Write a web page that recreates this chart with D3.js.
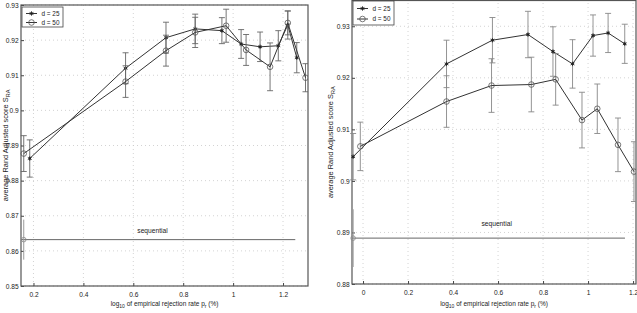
<!DOCTYPE html>
<html>
<head>
<meta charset="utf-8">
<script src="https://cdn.jsdelivr.net/npm/d3@7"></script>
<style>
  body { margin: 0; background: #fff; }
  svg { display: block; font-family: "Liberation Sans", Arial, sans-serif; }
</style>
</head>
<body>
<div id="chart"></div>
<script>
// ---- left panel data ----
const leftX25 = [0.185, 0.569, 0.731, 0.848, 0.955, 1.032, 1.108, 1.181, 1.219, 1.255];
const leftY25 = [0.8863, 0.9120, 0.9207, 0.9232, 0.9227, 0.9189, 0.9181, 0.9184, 0.9243, 0.9150];
const leftE25 = [0.0053, 0.0044, 0.0044, 0.0042, 0.0037, 0.0041, 0.0042, 0.0043, 0.0040, 0.0043];
const leftX50 = [0.161, 0.569, 0.731, 0.848, 0.972, 1.052, 1.148, 1.219, 1.290];
const leftY50 = [0.8877, 0.9082, 0.9170, 0.9222, 0.9241, 0.9172, 0.9124, 0.9249, 0.9093];
const leftE50 = [0.0051, 0.0045, 0.0044, 0.0043, 0.0047, 0.0044, 0.0068, 0.0034, 0.0040];
const leftSeq = { x: 0.161, y: 0.8632, e: 0.0057, xEnd: 1.249 };
const leftXTicks = [0.2, 0.4, 0.6, 0.8, 1, 1.2];
const leftYTicks = [0.85, 0.86, 0.87, 0.88, 0.89, 0.9, 0.91, 0.92, 0.93];

// ---- right panel data ----
const rightX25 = [-0.044, 0.371, 0.575, 0.733, 0.844, 0.931, 1.022, 1.089, 1.163];
const rightY25 = [0.9047, 0.9227, 0.9273, 0.9284, 0.9251, 0.9227, 0.9282, 0.9287, 0.9266];
const rightE25 = [0.0045, 0.0046, 0.0044, 0.0045, 0.0048, 0.0047, 0.0040, 0.0038, 0.0038];
const rightX50 = [-0.012, 0.371, 0.571, 0.748, 0.856, 0.973, 1.041, 1.133, 1.204];
const rightY50 = [0.9067, 0.9154, 0.9185, 0.9187, 0.9197, 0.9118, 0.9140, 0.9070, 0.9018];
const rightE50 = [0.0047, 0.0050, 0.0052, 0.0053, 0.0050, 0.0054, 0.0048, 0.0052, 0.0058];
const rightSeq = { x: -0.044, y: 0.8889, e: 0.0056, xEnd: 1.164 };
const rightXTicks = [0, 0.2, 0.4, 0.6, 0.8, 1, 1.2];
const rightYTicks = [0.88, 0.89, 0.9, 0.91, 0.92, 0.93];

const seriesNames = ['d = 25', 'd = 50'];

const W = 637, H = 313;
const svg = d3.select('#chart').append('svg').attr('width', W).attr('height', H);

function drawPanel(cfg) {
  const x = d3.scaleLinear().domain(cfg.xDomain).range([cfg.x0, cfg.x1]);
  const y = d3.scaleLinear().domain(cfg.yDomain).range([cfg.y0, cfg.y1]);
  const g = svg.append('g');
  const fmt = d => String(+d.toFixed(2));

  // grid
  g.selectAll('.gx').data(cfg.xTicks).enter().append('line')
    .attr('x1', d => x(d)).attr('x2', d => x(d))
    .attr('y1', cfg.y0).attr('y2', cfg.y1)
    .attr('stroke', '#c8c8c8').attr('stroke-width', 0.8).attr('stroke-dasharray', '1,3');
  g.selectAll('.gy').data(cfg.yTicks).enter().append('line')
    .attr('x1', cfg.x0).attr('x2', cfg.x1)
    .attr('y1', d => y(d)).attr('y2', d => y(d))
    .attr('stroke', '#c8c8c8').attr('stroke-width', 0.8).attr('stroke-dasharray', '1,3');

  // axes with inward ticks
  const xa = g.append('g').attr('transform', `translate(0,${cfg.y0})`)
    .call(d3.axisBottom(x).tickValues(cfg.xTicks).tickFormat(fmt).tickSizeInner(-3).tickSizeOuter(0).tickPadding(6.3));
  const ya = g.append('g').attr('transform', `translate(${cfg.x0},0)`)
    .call(d3.axisLeft(y).tickValues(cfg.yTicks).tickFormat(fmt).tickSizeInner(-3).tickSizeOuter(0).tickPadding(2.3));
  [xa, ya].forEach(a => {
    a.select('.domain').remove();
    a.selectAll('line').attr('stroke', '#444');
    a.selectAll('text').attr('font-size', 6.6).attr('fill', '#222')
      .attr('font-family', '"Liberation Sans", Arial, sans-serif');
  });

  // box
  g.append('rect')
    .attr('x', cfg.x0).attr('y', cfg.y1)
    .attr('width', cfg.x1 - cfg.x0).attr('height', cfg.y0 - cfg.y1)
    .attr('fill', 'none').attr('stroke', '#555').attr('stroke-width', 1.2);

  // sequential baseline
  const s = cfg.seq;
  g.append('line')
    .attr('x1', cfg.x0).attr('x2', x(s.xEnd))
    .attr('y1', y(s.y)).attr('y2', y(s.y))
    .attr('stroke', '#666').attr('stroke-width', 1);
  g.append('line')
    .attr('x1', x(s.x)).attr('x2', x(s.x))
    .attr('y1', y(s.y - s.e)).attr('y2', y(s.y + s.e))
    .attr('stroke', '#999').attr('stroke-width', 1);
  g.append('circle').attr('cx', x(s.x)).attr('cy', y(s.y)).attr('r', 2.3)
    .attr('fill', 'none').attr('stroke', '#888').attr('stroke-width', 0.8);
  g.append('text').attr('x', x(cfg.seqLabel[0])).attr('y', y(cfg.seqLabel[1]))
    .attr('font-size', 6.7).attr('fill', '#222').text('sequential');

  const clip = 'clip' + cfg.id;
  svg.append('clipPath').attr('id', clip).append('rect')
    .attr('x', cfg.x0 - 4).attr('y', cfg.y1 - 4)
    .attr('width', cfg.x1 - cfg.x0 + 4).attr('height', cfg.y0 - cfg.y1 + 8);
  const plot = g.append('g').attr('clip-path', `url(#${clip})`);

  const series = [
    { xs: cfg.x25, ys: cfg.y25, es: cfg.e25, filled: true },
    { xs: cfg.x50, ys: cfg.y50, es: cfg.e50, filled: false }
  ];
  const line = d3.line().x(d => x(d.x)).y(d => y(d.y));

  series.forEach(sr => {
    const pts = sr.xs.map((v, i) => ({ x: v, y: sr.ys[i], e: sr.es[i] }));
    // error bars
    const eb = plot.append('g').attr('stroke', cfg.errColor).attr('stroke-width', 0.9);
    pts.forEach(p => {
      const cx = x(p.x), ylo = y(p.y - p.e), yhi = y(p.y + p.e);
      eb.append('line').attr('x1', cx).attr('x2', cx).attr('y1', ylo).attr('y2', yhi);
      eb.append('line').attr('x1', cx - 3).attr('x2', cx + 3).attr('y1', ylo).attr('y2', ylo);
      eb.append('line').attr('x1', cx - 3).attr('x2', cx + 3).attr('y1', yhi).attr('y2', yhi);
    });
    plot.append('path').datum(pts).attr('d', line)
      .attr('fill', 'none').attr('stroke', '#333').attr('stroke-width', 1);
    pts.forEach(p => drawMarker(plot, x(p.x), y(p.y), sr.filled));
  });

  // legend
  const L = cfg.legend;
  const lg = g.append('g');
  lg.append('rect').attr('x', L.x).attr('y', L.y).attr('width', L.w).attr('height', L.h)
    .attr('fill', '#fff').attr('stroke', '#444').attr('stroke-width', 0.8);
  seriesNames.forEach((name, i) => {
    const yy = L.rows[i];
    lg.append('line').attr('x1', L.x + 4).attr('x2', L.x + 15).attr('y1', yy).attr('y2', yy)
      .attr('stroke', '#333').attr('stroke-width', 1);
    drawMarker(lg, L.x + 9.5, yy, i === 0);
    lg.append('text').attr('x', L.x + 19.5).attr('y', yy + 2.3)
      .attr('font-size', 6.4).attr('fill', '#222').text(name);
  });

  // axis labels
  const ylab = g.append('text')
    .attr('transform', `translate(${cfg.yLabelX},${(cfg.y0 + cfg.y1) / 2}) rotate(-90)`)
    .attr('text-anchor', 'middle').attr('font-size', 7.4).attr('fill', '#222');
  ylab.append('tspan').text('average Rand Adjusted score S');
  ylab.append('tspan').attr('font-size', 5.5).attr('dy', 2).text('RA');

  const xlab = g.append('text')
    .attr('x', (cfg.x0 + cfg.x1) / 2).attr('y', cfg.xLabelY)
    .attr('text-anchor', 'middle').attr('font-size', 6.5).attr('fill', '#222');
  xlab.append('tspan').text('log');
  xlab.append('tspan').attr('font-size', 5).attr('dy', 2).text('10');
  xlab.append('tspan').attr('dy', -2).text(' of empirical rejection rate p');
  xlab.append('tspan').attr('font-size', 5).attr('dy', 2).text('r');
  xlab.append('tspan').attr('dy', -2).text(' (%)');
}

function drawMarker(parent, cx, cy, filled) {
  if (filled) {
    parent.append('path')
      .attr('transform', `translate(${cx},${cy})`)
      .attr('d', d3.symbol(d3.symbolAsterisk, 14)())
      .attr('fill', 'none').attr('stroke', '#222').attr('stroke-width', 0.8);
    parent.append('circle').attr('cx', cx).attr('cy', cy).attr('r', 1.2).attr('fill', '#222');
  } else {
    parent.append('circle').attr('cx', cx).attr('cy', cy).attr('r', 2.8)
      .attr('fill', 'none').attr('stroke', '#555').attr('stroke-width', 0.8);
  }
}

drawPanel({
  id: 'L', x0: 21, x1: 308, y0: 286, y1: 5,
  xDomain: [0.15, 1.3], yDomain: [0.85, 0.93],
  xTicks: leftXTicks, yTicks: leftYTicks,
  x25: leftX25, y25: leftY25, e25: leftE25,
  x50: leftX50, y50: leftY50, e50: leftE50,
  seq: leftSeq, seqLabel: [0.616, 0.8652],
  legend: { x: 22, y: 7, w: 41, h: 20, rows: [13.5, 22.5] },
  errColor: '#666',
  yLabelX: 8, xLabelY: 306
});

drawPanel({
  id: 'R', x0: 352, x1: 636, y0: 284, y1: 0.5,
  xDomain: [-0.049, 1.213], yDomain: [0.88, 0.935],
  xTicks: rightXTicks, yTicks: rightYTicks,
  x25: rightX25, y25: rightY25, e25: rightE25,
  x50: rightX50, y50: rightY50, e50: rightE50,
  seq: rightSeq, seqLabel: [0.526, 0.8913],
  legend: { x: 353, y: 1, w: 41, h: 24, rows: [8.5, 19] },
  errColor: '#888',
  yLabelX: 333, xLabelY: 306
});
</script>
</body>
</html>
